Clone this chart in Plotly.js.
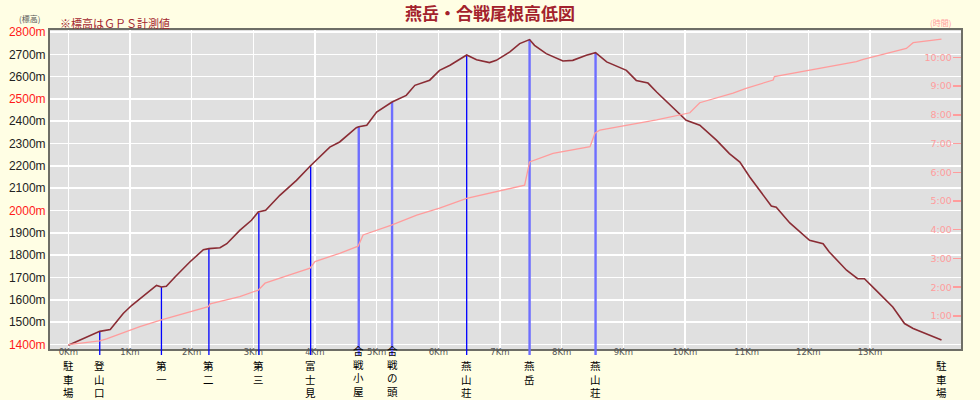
<!DOCTYPE html>
<html>
<head>
<meta charset="utf-8">
<script src="https://cdn.plot.ly/plotly-3.0.1.min.js"></script>
<style>
  html, body { margin: 0; padding: 0; background: #fffee4; }
  #chart { width: 980px; height: 400px; }
</style>
</head>
<body>
<div id="chart"></div>
<script>
// ---------------- DATA ----------------
// Elevation profile: distance (km) and altitude (m)
const profileKm = [0.00, 0.51, 0.68, 0.89, 1.03, 1.19, 1.43, 1.51, 1.59, 1.73, 1.97, 2.19, 2.28, 2.46, 2.57, 2.78, 2.97, 3.08, 3.20, 3.43, 3.70, 3.92, 4.24, 4.40, 4.67, 4.71, 4.84, 5.00, 5.21, 5.25, 5.48, 5.62, 5.86, 6.02, 6.19, 6.46, 6.62, 6.83, 6.94, 7.16, 7.32, 7.48, 7.56, 7.75, 8.02, 8.18, 8.40, 8.55, 8.73, 9.05, 9.21, 9.40, 9.54, 9.80, 10.02, 10.24, 10.51, 10.72, 10.89, 11.05, 11.40, 11.48, 11.70, 12.02, 12.24, 12.34, 12.62, 12.80, 12.91, 13.10, 13.37, 13.56, 13.70, 14.16];
const profileElev = [1396, 1458, 1466, 1538, 1575, 1609, 1664, 1657, 1660, 1702, 1769, 1824, 1829, 1833, 1851, 1911, 1956, 1993, 2001, 2068, 2135, 2198, 2284, 2307, 2371, 2375, 2382, 2441, 2482, 2486, 2516, 2561, 2584, 2628, 2651, 2697, 2676, 2663, 2673, 2711, 2748, 2766, 2740, 2703, 2670, 2673, 2696, 2707, 2666, 2628, 2583, 2571, 2531, 2464, 2404, 2382, 2315, 2255, 2217, 2150, 2020, 2015, 1944, 1866, 1851, 1814, 1732, 1694, 1694, 1642, 1567, 1493, 1471, 1419];

// Elapsed time: distance (km) and hours
const timeKm = [0.00, 0.51, 0.62, 1.16, 1.51, 2.27, 2.30, 2.78, 3.08, 3.19, 3.59, 3.92, 4.00, 4.40, 4.70, 4.78, 5.24, 5.65, 6.02, 6.46, 7.40, 7.48, 7.86, 8.46, 8.54, 8.62, 9.54, 10.08, 10.24, 10.78, 10.99, 11.43, 11.45, 12.78, 12.89, 13.59, 13.70, 14.16];
const timeHours = [0.00, 0.13, 0.20, 0.63, 0.86, 1.32, 1.42, 1.67, 1.90, 2.14, 2.43, 2.66, 2.89, 3.18, 3.43, 3.82, 4.16, 4.51, 4.75, 5.09, 5.55, 6.36, 6.66, 6.89, 7.36, 7.47, 7.82, 8.07, 8.42, 8.75, 8.92, 9.21, 9.33, 9.85, 9.93, 10.31, 10.51, 10.63];

// Waypoints
const waypointNames = ['駐車場', '登山口', '第一', '第二', '第三', '富士見', '合戦小屋', '合戦の頭', '燕山荘', '燕岳', '燕山荘', '駐車場'];
const waypointKm = [0.00, 0.51, 1.51, 2.28, 3.09, 3.93, 4.71, 5.25, 6.46, 7.48, 8.55, 14.16];
const waypointElev = [1396, 1458, 1657, 1829, 1990, 2198, 2375, 2486, 2697, 2766, 2707, 1419];

// Tick labels
const distTicks = [0, 1, 2, 3, 4, 5, 6, 7, 8, 9, 10, 11, 12, 13, 14];
const distTickLabels = ['0Km', '1Km', '2Km', '3Km', '4Km', '5Km', '6Km', '7Km', '8Km', '9Km', '10Km', '11Km', '12Km', '13Km', '14Km'];
const elevTicks = [1400, 1500, 1600, 1700, 1800, 1900, 2000, 2100, 2200, 2300, 2400, 2500, 2600, 2700, 2800];
const elevRedTicks = [1400, 2000, 2500, 2800];
const hourTicks = [1, 2, 3, 4, 5, 6, 7, 8, 9, 10];
const hourTickLabels = ['1:00', '2:00', '3:00', '4:00', '5:00', '6:00', '7:00', '8:00', '9:00', '10:00'];

// ---------------- DRAWING ----------------
const ELEV_RANGE = [1379, 2809];
const KM_RANGE = [-0.297, 14.476];
const HOUR_RANGE = [-0.15, 10.95];
const MARGIN = {l: 50, r: 19, t: 30, b: 51};
const PLOT_BOTTOM_PX = 400 - MARGIN.b;
const PLOT_H = 400 - MARGIN.t - MARGIN.b;
const CJK = '"Noto Sans CJK JP", "Noto Sans", sans-serif';
const pxToPaperY = py => (PLOT_BOTTOM_PX - py) / PLOT_H;

const elevTickText = elevTicks.map(v => elevRedTicks.includes(v)
  ? '<span style="color:#ff1a1a">' + v + 'm</span>' : v + 'm');

const traces = [];
// time line
traces.push({
  x: timeKm, y: timeHours, yaxis: 'y2', type: 'scatter', mode: 'lines',
  line: {color: '#ff9c9c', width: 1.3}, hoverinfo: 'skip'
});
// waypoint lines (skip the car park at start and end)
const wideLines = [6, 7, 9, 10];
const shapes = [];
for (let i = 1; i < waypointKm.length - 1; i++) {
  const wide = wideLines.includes(i);
  const col = wide ? '#6e6eff' : '#0000ff';
  const w = wide ? 2.4 : 1.3;
  traces.push({
    x: [waypointKm[i], waypointKm[i]], y: [ELEV_RANGE[0], waypointElev[i]],
    type: 'scatter', mode: 'lines', line: {color: col, width: w}, hoverinfo: 'skip'
  });
  shapes.push({type: 'line', xref: 'x', yref: 'paper', x0: waypointKm[i], x1: waypointKm[i],
    y0: 0, y1: -(6 / PLOT_H), line: {color: col, width: w}});
}
// elevation profile
traces.push({
  x: profileKm, y: profileElev, type: 'scatter', mode: 'lines',
  line: {color: '#8a2c34', width: 1.6}, hoverinfo: 'skip'
});

const annotations = [];
// waypoint labels, written vertically (one character per line)
waypointNames.forEach((name, i) => {
  const chars = Array.from(name);
  const long = chars.length >= 4;
  annotations.push({
    text: chars.join('<br>'), x: waypointKm[i], xref: 'x',
    y: long ? pxToPaperY(399.5) : pxToPaperY(357), yref: 'paper',
    showarrow: false, xanchor: 'center', yanchor: long ? 'bottom' : 'top',
    borderpad: 0, align: 'center',
    font: {family: CJK, size: 10.5, color: '#000'}
  });
});
annotations.push({
  text: '※標高はＧＰＳ計測値', xref: 'paper', yref: 'paper', x: 8 / 911, y: pxToPaperY(23),
  xanchor: 'left', yanchor: 'middle', showarrow: false,
  font: {family: CJK, size: 11, color: '#a3262e'}
});
annotations.push({
  text: '(標高)', xref: 'paper', yref: 'paper', x: (29 - 50) / 911, y: pxToPaperY(18.5),
  xanchor: 'center', yanchor: 'middle', showarrow: false,
  font: {family: CJK, size: 8, color: '#555'}
});
annotations.push({
  text: '(時間)', xref: 'paper', yref: 'paper', x: (940 - 50) / 911, y: pxToPaperY(22),
  xanchor: 'center', yanchor: 'middle', showarrow: false,
  font: {family: CJK, size: 8, color: '#ff9c9c'}
});

const layout = {
  width: 980, height: 400,
  margin: MARGIN,
  paper_bgcolor: '#fffee4',
  plot_bgcolor: '#e0e0e0',
  showlegend: false,
  title: {
    text: '<b>燕岳・合戦尾根高低図</b>',
    font: {family: CJK, size: 17, color: '#a3222c'},
    x: 0.5, xref: 'container', xanchor: 'center',
    y: 1 - 14.5 / 400, yref: 'container', yanchor: 'middle'
  },
  xaxis: {
    range: KM_RANGE, tickvals: distTicks, ticktext: distTickLabels,
    showgrid: true, gridcolor: '#ffffff', gridwidth: 1.6, zeroline: false,
    showline: true, linecolor: '#6e6e66', linewidth: 2, mirror: true,
    ticks: '', tickfont: {family: '"DejaVu Sans", sans-serif', size: 8.5, color: '#555'},
    ticklabelstandoff: -6
  },
  yaxis: {
    range: ELEV_RANGE, tickvals: elevTicks, ticktext: elevTickText,
    showgrid: true, gridcolor: '#ffffff', gridwidth: 1.6, zeroline: false,
    showline: true, linecolor: '#6e6e66', linewidth: 2, mirror: true,
    ticks: '', tickfont: {family: '"Liberation Sans Narrow", "Liberation Sans", sans-serif', size: 12, color: '#222'}
  },
  yaxis2: {
    range: HOUR_RANGE, overlaying: 'y', side: 'right',
    tickvals: hourTicks, ticktext: hourTickLabels,
    showgrid: false, zeroline: false, showline: false,
    ticks: 'inside', ticklen: 8, tickwidth: 1.5, tickcolor: '#ff9c9c',
    ticklabelposition: 'inside',
    tickfont: {family: '"DejaVu Sans", sans-serif', size: 9.5, color: '#ff9c9c'}
  },
  shapes: shapes,
  annotations: annotations
};

Plotly.newPlot('chart', traces, layout, {staticPlot: true, displayModeBar: false});
</script>
</body>
</html>
